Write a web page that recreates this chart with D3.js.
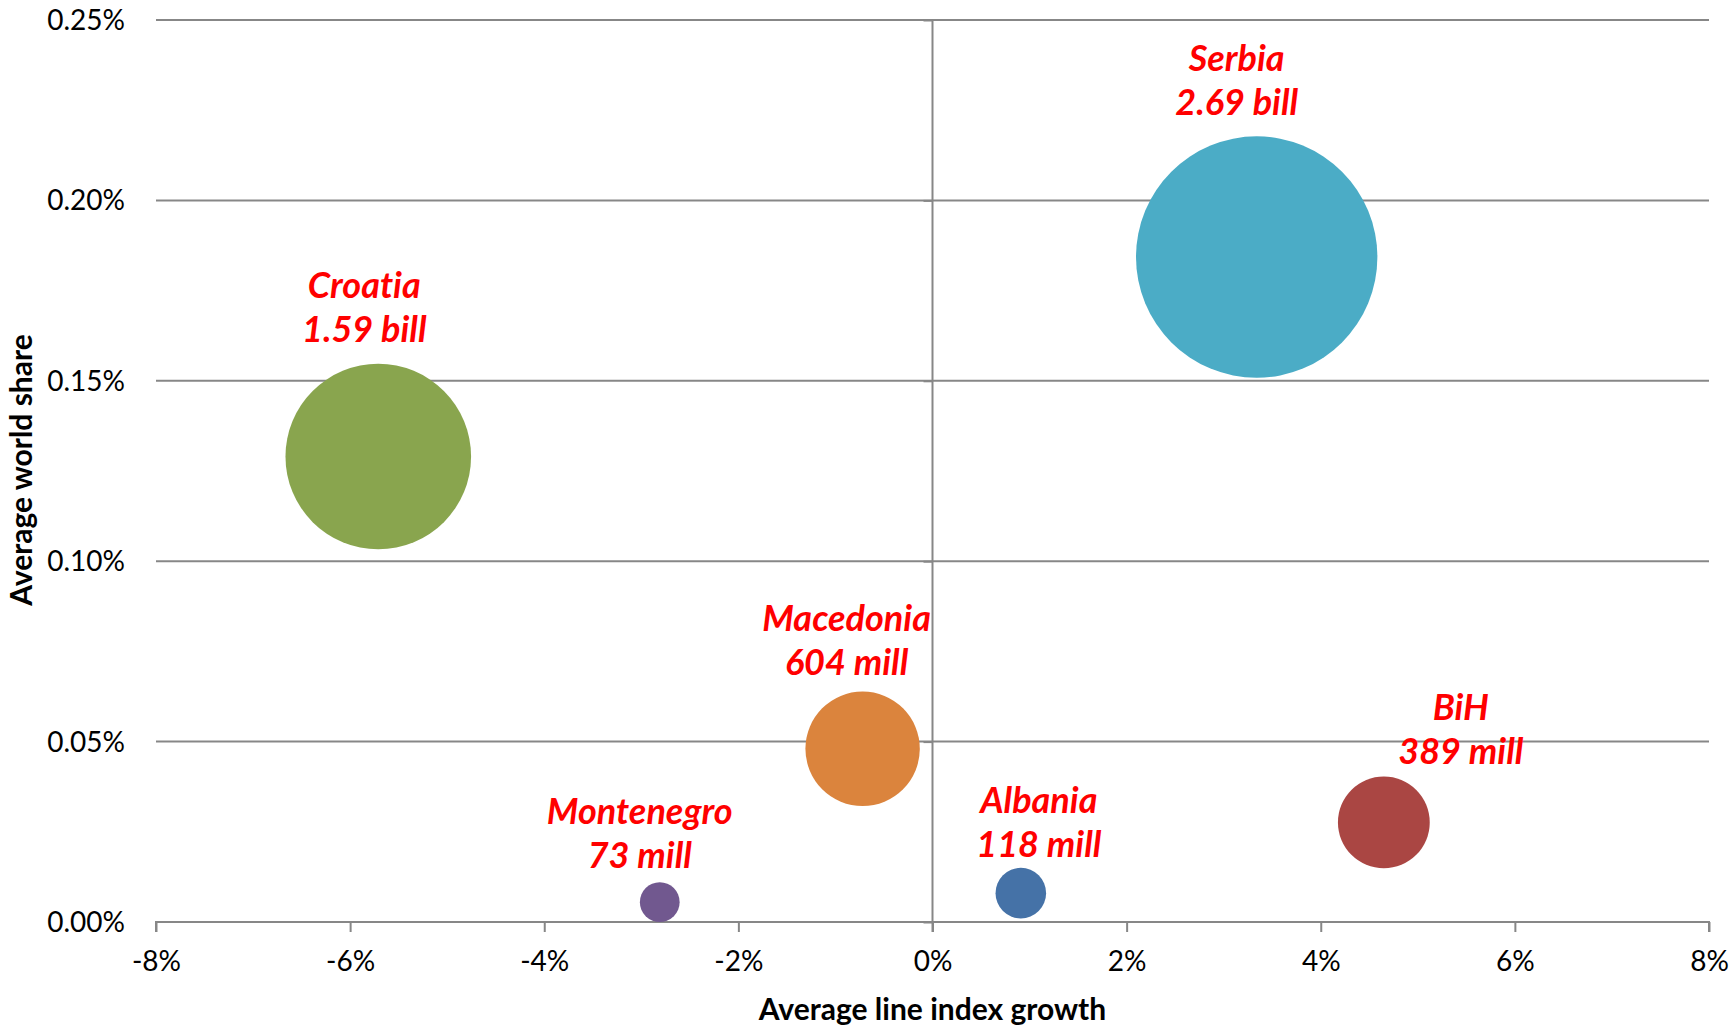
<!DOCTYPE html>
<html><head><meta charset="utf-8">
<script src="https://cdn.jsdelivr.net/npm/d3@7"></script>
<style>body{margin:0;background:#fff}svg{display:block}text{font-variant-ligatures:none;font-feature-settings:"liga" 0}</style>
</head><body>
<script>
// ---- data ----
const countries = ["Serbia","Croatia","Macedonia","Montenegro","Albania","BiH"];
const growth    = [3.34, -5.71, -0.72, -2.81, 0.91, 4.65];      // % average line index growth
const share     = [0.1843, 0.129, 0.048, 0.0055, 0.008, 0.0276]; // % average world share
const volume    = [2690, 1590, 604, 73, 118, 389];               // millions
const volumeLabels = ["2.69 bill","1.59 bill","604 mill","73 mill","118 mill","389 mill"];
const colors    = ["#4BACC6","#89A54E","#DB843D","#71588F","#4572A7","#AA4643"];
const xTicks = [-8,-6,-4,-2,0,2,4,6,8];
const yTicks = [0,0.05,0.10,0.15,0.20,0.25];

// label nudges (layout only, px relative to bubble centre x / top)
const labelDx = [-20,-14,-16,-20,18,77];
const labelGap = [21,22,17,14,11,13];

const W=1729,H=1031;
const svg=d3.select("body").append("svg").attr("width",W).attr("height",H);
const x=d3.scaleLinear().domain([-8,8]).range([156,1709]);
const y=d3.scaleLinear().domain([0,0.25]).range([922,20]);
const r=d3.scaleSqrt().domain([0,2690]).range([0,120.7]);
const grid="#878787";
const font="Lato, 'Open Sans', sans-serif";

// horizontal gridlines
svg.append("g").selectAll("line").data(yTicks.slice(1)).join("line")
 .attr("x1",x(-8)).attr("x2",x(8)).attr("y1",d=>y(d)).attr("y2",d=>y(d))
 .attr("stroke",grid).attr("stroke-width",2);

// x axis at bottom
const xa=svg.append("g").attr("transform",`translate(0,${y(0)})`)
 .call(d3.axisBottom(x).tickValues(xTicks).tickSize(10).tickPadding(12).tickFormat(d=>d+"%"));
xa.select(".domain").attr("stroke",grid).attr("stroke-width",2).attr("d",`M${x(-8)},10V0H${x(8)}V10`);
xa.selectAll(".tick line").attr("stroke",grid).attr("stroke-width",2);
xa.selectAll("text").attr("font-family",font).attr("font-size",28).attr("fill","#000").attr("dy","0.95em");

// vertical axis crossing at 0%
const ya=svg.append("g").attr("transform",`translate(${x(0)},0)`)
 .call(d3.axisLeft(y).tickValues(yTicks).tickSize(9).tickFormat(()=>""));
ya.select(".domain").attr("stroke",grid).attr("stroke-width",2).attr("d",`M0,${y(0.25)}V${y(0)+10}`);
ya.selectAll(".tick line").attr("stroke",grid).attr("stroke-width",2);

// y tick labels at left
svg.append("g").selectAll("text").data(yTicks).join("text")
 .attr("x",125).attr("y",d=>y(d)).attr("dy","0.36em").attr("text-anchor","end")
 .attr("font-family",font).attr("font-size",28).attr("fill","#000")
 .text(d=>d3.format(".2f")(d)+"%");

// bubbles
const idx=d3.range(countries.length).sort((a,b)=>volume[b]-volume[a]);
svg.append("g").selectAll("circle").data(idx).join("circle")
 .attr("cx",i=>x(growth[i])).attr("cy",i=>y(share[i])).attr("r",i=>r(volume[i]))
 .attr("fill",i=>colors[i]);

// labels
const lg=svg.append("g").attr("font-family",font).attr("font-size",36).attr("font-weight","bold")
 .attr("font-style","italic").attr("fill","#FF0000").attr("text-anchor","middle");
d3.range(countries.length).forEach(i=>{
  const cx=x(growth[i])+labelDx[i];
  const base=y(share[i])-r(volume[i])-labelGap[i];
  lg.append("text").attr("x",cx).attr("y",base-44).text(countries[i]);
  lg.append("text").attr("x",cx).attr("y",base).text(volumeLabels[i]);
});

// axis titles
svg.append("text").attr("x",x(0)).attr("y",1020).attr("text-anchor","middle")
 .attr("font-family",font).attr("font-size",30).attr("font-weight","bold").text("Average line index growth");
svg.append("text").attr("transform","translate(32,470) rotate(-90)").attr("text-anchor","middle")
 .attr("font-family",font).attr("font-size",30).attr("font-weight","bold").text("Average world share");
</script>
</body></html>
